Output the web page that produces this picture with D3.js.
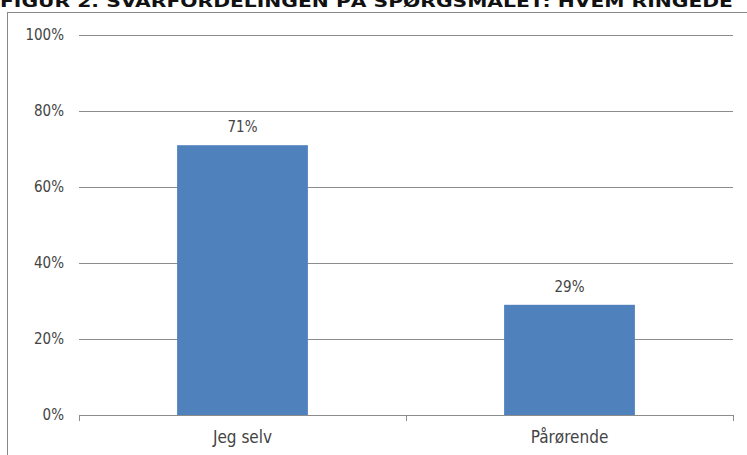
<!DOCTYPE html>
<html><head><meta charset="utf-8">
<script src="https://cdn.jsdelivr.net/npm/d3@7"></script>
<style>html,body{margin:0;padding:0;background:#fff;overflow:hidden}</style>
</head><body>
<svg id="c" width="747" height="455"></svg>
<script>
const titleText = "FIGUR 2. SVARFORDELINGEN PÅ SPØRGSMÅLET: HVEM RINGEDE";
const categories = ["Jeg selv", "Pårørende"];
const values = [0.71, 0.29];
const valueLabels = ["71%", "29%"];
const yTicks = [0, 0.2, 0.4, 0.6, 0.8, 1.0];

const svg = d3.select("#c");
const labelFont = "'Liberation Sans Narrow', 'DejaVu Sans Condensed', Arial, sans-serif";

// title (clipped at top, as in the reference)
svg.append("text").attr("x", 0).attr("y", 7)
  .attr("font-family", "'DejaVu Sans', Verdana, sans-serif")
  .attr("font-weight", "bold").attr("font-size", 15.5)
  .attr("textLength", 733).attr("lengthAdjust", "spacingAndGlyphs")
  .attr("fill", "#111").text(titleText);

// chart frame
svg.append("rect").attr("x", 7.5).attr("y", 12.5).attr("width", 745).attr("height", 460)
  .attr("fill", "none").attr("stroke", "#888").attr("stroke-width", 1);

const x0 = 79, x1 = 733, yTop = 35, yBot = 415;
const x = d3.scaleBand().domain(categories).range([x0, x1]).paddingInner(0.6).paddingOuter(0.3);
const y = d3.scaleLinear().domain([0, 1]).range([yBot, yTop]);

// gridlines
svg.append("g").selectAll("line").data(yTicks.filter(d => d > 0)).join("line")
  .attr("x1", x0).attr("x2", x1)
  .attr("y1", d => Math.round(y(d)) + 0.5).attr("y2", d => Math.round(y(d)) + 0.5)
  .attr("stroke", "#8c8c8c").attr("stroke-width", 1);

// y labels
svg.append("g").selectAll("text").data(yTicks).join("text")
  .attr("x", 64).attr("y", d => y(d) + 5)
  .attr("text-anchor", "end").attr("font-family", labelFont).attr("font-size", 15)
  .attr("fill", "#444").text(d => d3.format(".0%")(d));

// bars
svg.append("g").selectAll("rect").data(categories).join("rect")
  .attr("x", d => x(d)).attr("width", x.bandwidth())
  .attr("y", (d, i) => y(values[i])).attr("height", (d, i) => yBot - y(values[i]))
  .attr("fill", "#4f81bd");

// value labels
svg.append("g").selectAll("text").data(categories).join("text")
  .attr("x", d => x(d) + x.bandwidth() / 2).attr("y", (d, i) => y(values[i]) - 13)
  .attr("text-anchor", "middle").attr("font-family", labelFont).attr("font-size", 15)
  .attr("fill", "#444").text((d, i) => valueLabels[i]);

// x axis line and ticks
svg.append("line").attr("x1", x0).attr("x2", x1).attr("y1", yBot + 0.5).attr("y2", yBot + 0.5)
  .attr("stroke", "#8c8c8c");
const tickXs = [x0, (x0 + x1) / 2, x1];
svg.append("g").selectAll("line").data(tickXs).join("line")
  .attr("x1", d => Math.round(d) + 0.5).attr("x2", d => Math.round(d) + 0.5)
  .attr("y1", yBot).attr("y2", yBot + 6).attr("stroke", "#8c8c8c");

// category labels
svg.append("g").selectAll("text").data(categories).join("text")
  .attr("x", d => x(d) + x.bandwidth() / 2).attr("y", 443)
  .attr("text-anchor", "middle").attr("font-family", labelFont).attr("font-size", 17)
  .attr("fill", "#444").text(d => d);
</script>
</body></html>
